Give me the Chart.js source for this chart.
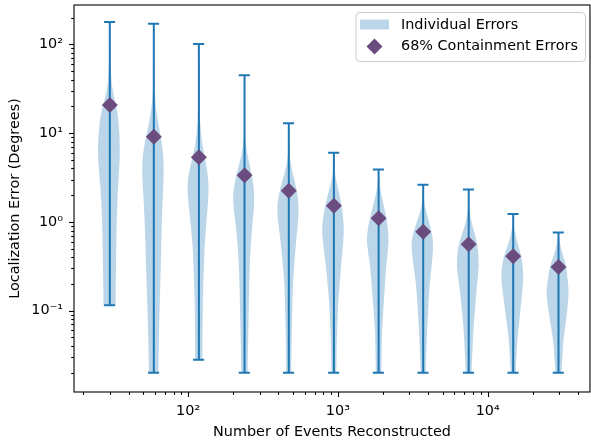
<!DOCTYPE html>
<html>
<head>
<meta charset="utf-8">
<script src="https://cdn.jsdelivr.net/npm/chart.js@4.4.0/dist/chart.umd.min.js"></script>
<style>
  html, body { margin: 0; padding: 0; background: #fff; }
</style>
</head>
<body>
<canvas id="chart" width="591" height="442"></canvas>
<script>
// number of events per run (x positions of the violins)
const eventCounts = [30, 59, 118, 238, 470, 940, 1870, 3710, 7470, 14800, 29700];
const errMin = [0.115, 0.02, 0.028, 0.02, 0.02, 0.02, 0.02, 0.02, 0.02, 0.02, 0.02];
const errMax = [178, 170, 101, 44.8, 12.9, 6.0, 3.9, 2.62, 2.31, 1.23, 0.76];
const containment68 = [20.7, 9.1, 5.35, 3.35, 2.24, 1.52, 1.1, 0.776, 0.56, 0.41, 0.31];

// violin outlines: [error value, relative width], bottom to top
const violinProfiles = [
  [[0.115, 0.55], [0.16, 0.55], [0.88, 0.64], [2.1, 0.75], [4, 0.92], [6.5, 1.0], [11.7, 0.9], [18.2, 0.72], [28, 0.27], [43, 0.12], [80, 0.03], [178, 0.01]],
  [[0.02, 0.42], [0.065, 0.5], [0.37, 0.68], [0.88, 0.75], [2.1, 0.88], [4.2, 1.0], [7, 0.85], [11.8, 0.47], [18, 0.22], [28, 0.08], [60, 0.02], [170, 0.01]],
  [[0.028, 0.32], [0.16, 0.38], [0.58, 0.55], [1.36, 0.82], [2.5, 1.0], [4, 0.8], [5.5, 0.5], [7.7, 0.3], [11, 0.15], [20, 0.05], [101, 0.01]],
  [[0.02, 0.28], [0.16, 0.42], [0.37, 0.5], [0.88, 0.72], [1.77, 1.0], [2.5, 0.9], [3.35, 0.7], [5, 0.37], [6, 0.2], [8, 0.07], [15, 0.02], [44.8, 0.01]],
  [[0.02, 0.22], [0.055, 0.27], [0.2, 0.38], [0.48, 0.62], [0.9, 0.85], [1.36, 1.0], [2.24, 0.8], [3.2, 0.45], [4.6, 0.15], [6, 0.05], [12.9, 0.01]],
  [[0.02, 0.22], [0.055, 0.28], [0.13, 0.42], [0.32, 0.68], [0.6, 0.92], [0.88, 1.0], [1.52, 0.75], [2.5, 0.35], [3.2, 0.12], [4, 0.04], [6, 0.01]],
  [[0.02, 0.25], [0.055, 0.3], [0.13, 0.5], [0.32, 0.72], [0.5, 0.92], [0.68, 1.0], [1.1, 0.75], [1.9, 0.3], [2.5, 0.1], [3.9, 0.01]],
  [[0.02, 0.22], [0.065, 0.37], [0.19, 0.6], [0.4, 0.9], [0.59, 1.0], [0.78, 0.8], [1.1, 0.45], [1.5, 0.12], [2, 0.03], [2.62, 0.01]],
  [[0.02, 0.25], [0.065, 0.45], [0.156, 0.72], [0.28, 0.95], [0.37, 1.0], [0.56, 0.85], [0.75, 0.55], [0.96, 0.27], [1.4, 0.06], [2.31, 0.01]],
  [[0.02, 0.22], [0.045, 0.37], [0.1, 0.68], [0.18, 0.92], [0.26, 1.0], [0.41, 0.8], [0.55, 0.45], [0.68, 0.25], [0.9, 0.05], [1.23, 0.01]],
  [[0.02, 0.27], [0.045, 0.45], [0.078, 0.72], [0.12, 0.92], [0.17, 1.0], [0.31, 0.75], [0.48, 0.27], [0.6, 0.1], [0.76, 0.01]]
];

const xTicks = [100, 1000, 10000];
const xTickLabels = ['10²', '10³', '10⁴'];
const yTicks = [0.1, 1, 10, 100];
const yTickLabels = ['10⁻¹', '10⁰', '10¹', '10²'];

const legendLabels = ['Individual Errors', '68% Containment Errors'];

const BLUE = '#1f77b4';
const BODY = 'rgba(31,119,180,0.3)';
const PURPLE = '#6a4c7e';
const FONT = "'DejaVu Sans', sans-serif";
const bodyHalf = 0.17;  // widest half width, as a fraction of the position
const capHalf = 0.085;

// error bars + caps as one line dataset, broken by nulls
const barPoints = [];
eventCounts.forEach((n, i) => {
  barPoints.push({x: n, y: errMin[i]}, {x: n, y: errMax[i]}, {x: n, y: null});
  barPoints.push({x: n * (1 - capHalf), y: errMax[i]}, {x: n * (1 + capHalf), y: errMax[i]}, {x: n, y: null});
  barPoints.push({x: n * (1 - capHalf), y: errMin[i]}, {x: n * (1 + capHalf), y: errMin[i]}, {x: n, y: null});
});

// resample a profile evenly in log space and smooth it a little
function resample(prof) {
  const lv = prof.map(p => Math.log10(p[0]));
  const lo = lv[0], hi = lv[lv.length - 1];
  const N = 80, raw = [];
  for (let k = 0; k <= N; k++) {
    const t = lo + (hi - lo) * k / N;
    let j = 0;
    while (j < lv.length - 2 && t > lv[j + 1]) j++;
    const f = (t - lv[j]) / (lv[j + 1] - lv[j]);
    raw.push([t, prof[j][1] + (prof[j + 1][1] - prof[j][1]) * Math.min(1, Math.max(0, f))]);
  }
  return raw.map((p, k) => {
    if (k === 0 || k === N) return [Math.pow(10, p[0]), p[1]];
    let s = 0, c = 0;
    for (let d = -3; d <= 3; d++) {
      const q = raw[k + d];
      if (q) { s += q[1]; c++; }
    }
    return [Math.pow(10, p[0]), s / c];
  });
}

const violinPlugin = {
  id: 'violins',
  beforeDatasetsDraw(chart) {
    const {ctx, chartArea: a, scales: {x, y}} = chart;
    ctx.save();
    ctx.beginPath();
    ctx.rect(a.left, a.top, a.right - a.left, a.bottom - a.top);
    ctx.clip();
    ctx.fillStyle = BODY;
    eventCounts.forEach((n, i) => {
      const prof = resample(violinProfiles[i]);
      const left = prof.map(([v, w]) => [x.getPixelForValue(n * (1 - bodyHalf * w)), y.getPixelForValue(v)]);
      const right = prof.map(([v, w]) => [x.getPixelForValue(n * (1 + bodyHalf * w)), y.getPixelForValue(v)]).reverse();
      ctx.beginPath();
      left.concat(right).forEach(([px, py], k) => k ? ctx.lineTo(px, py) : ctx.moveTo(px, py));
      ctx.closePath();
      ctx.fill();
    });
    ctx.restore();
  }
};

// matplotlib style frame, major/minor ticks and legend
const framePlugin = {
  id: 'frame',
  afterDraw(chart) {
    const {ctx, chartArea: a, scales: {x, y}} = chart;
    ctx.save();
    ctx.strokeStyle = '#000';
    ctx.lineWidth = 1.1;
    const tick = (x0, y0, x1, y1) => { ctx.beginPath(); ctx.moveTo(x0, y0); ctx.lineTo(x1, y1); ctx.stroke(); };

    for (let e = 1; e <= 4; e++) {
      for (let m = 1; m <= 9; m++) {
        const v = m * Math.pow(10, e);
        if (v < x.min || v > x.max) continue;
        const px = Math.round(x.getPixelForValue(v)) + 0.5;
        tick(px, a.bottom, px, a.bottom + (m === 1 ? 5 : 2.8));
      }
    }
    for (let e = -2; e <= 2; e++) {
      for (let m = 1; m <= 9; m++) {
        const v = m * Math.pow(10, e);
        if (v < y.min || v > y.max) continue;
        const py = Math.round(y.getPixelForValue(v)) + 0.5;
        tick(a.left, py, a.left - (m === 1 ? 5 : 2.8), py);
      }
    }
    ctx.strokeRect(a.left, a.top, a.right - a.left, a.bottom - a.top);

    // legend
    const bx = a.right - 234.5, by = a.top + 7, bw = 229.5, bh = 49;
    ctx.fillStyle = 'rgba(255,255,255,0.8)';
    ctx.strokeStyle = '#cccccc';
    ctx.lineWidth = 1;
    ctx.beginPath();
    ctx.roundRect(bx + 0.5, by + 0.5, bw, bh, 4);
    ctx.fill();
    ctx.stroke();

    ctx.fillStyle = BODY;
    ctx.fillRect(bx + 4.5, by + 7.5, 29, 10);
    ctx.fillStyle = PURPLE;
    const dx = bx + 19, dy = by + 34.5, r = 8;
    ctx.beginPath();
    ctx.moveTo(dx, dy - r); ctx.lineTo(dx + r, dy); ctx.lineTo(dx, dy + r); ctx.lineTo(dx - r, dy);
    ctx.closePath();
    ctx.fill();

    ctx.fillStyle = '#000';
    ctx.font = '14.4px ' + FONT;
    ctx.textBaseline = 'middle';
    ctx.fillText(legendLabels[0], bx + 45.5, by + 13);
    ctx.fillText(legendLabels[1], bx + 45.5, by + 34.5);
    ctx.restore();
  }
};

const noPad = s => { s.paddingLeft = 0; s.paddingRight = 0; s.paddingTop = 0; s.paddingBottom = 0; };

Chart.defaults.font.family = FONT;
Chart.defaults.font.size = 14.4;
Chart.defaults.color = '#000';

new Chart(document.getElementById('chart'), {
  type: 'scatter',
  data: {
    datasets: [
      {
        label: legendLabels[1],
        data: eventCounts.map((n, i) => ({x: n, y: containment68[i]})),
        pointStyle: 'rectRot',
        pointRadius: 8,
        backgroundColor: PURPLE,
        borderWidth: 0,
        order: 0
      },
      {
        type: 'line',
        label: 'bars',
        data: barPoints,
        showLine: true,
        spanGaps: false,
        borderColor: BLUE,
        borderWidth: 2,
        pointRadius: 0,
        fill: false,
        order: 1
      }
    ]
  },
  options: {
    responsive: false,
    animation: false,
    events: [],
    layout: {autoPadding: false, padding: {top: 5, right: 1, left: 0, bottom: 0}},
    plugins: {legend: {display: false}, tooltip: {enabled: false}},
    scales: {
      x: {
        type: 'logarithmic',
        min: 17.3,
        max: 48200,
        grid: {display: false, drawTicks: false},
        border: {display: false},
        afterBuildTicks: s => { s.ticks = xTicks.map(v => ({value: v})); },
        afterFit: s => { s.height = 50; noPad(s); },
        ticks: {
          autoSkip: false,
          maxRotation: 0,
          padding: 11,
          callback: (v, i) => xTickLabels[i]
        },
        title: {display: true, text: 'Number of Events Reconstructed', padding: {bottom: 1, top: 0}}
      },
      y: {
        type: 'logarithmic',
        min: 0.01215,
        max: 277,
        grid: {display: false, drawTicks: false},
        border: {display: false},
        afterBuildTicks: s => { s.ticks = yTicks.map(v => ({value: v})); },
        afterFit: s => { s.width = 74; noPad(s); },
        ticks: {
          autoSkip: false,
          padding: 11,
          callback: (v, i) => yTickLabels[i]
        },
        title: {display: true, text: 'Localization Error (Degrees)', padding: {top: 7, bottom: 0}}
      }
    }
  },
  plugins: [violinPlugin, framePlugin]
});
</script>
</body>
</html>
